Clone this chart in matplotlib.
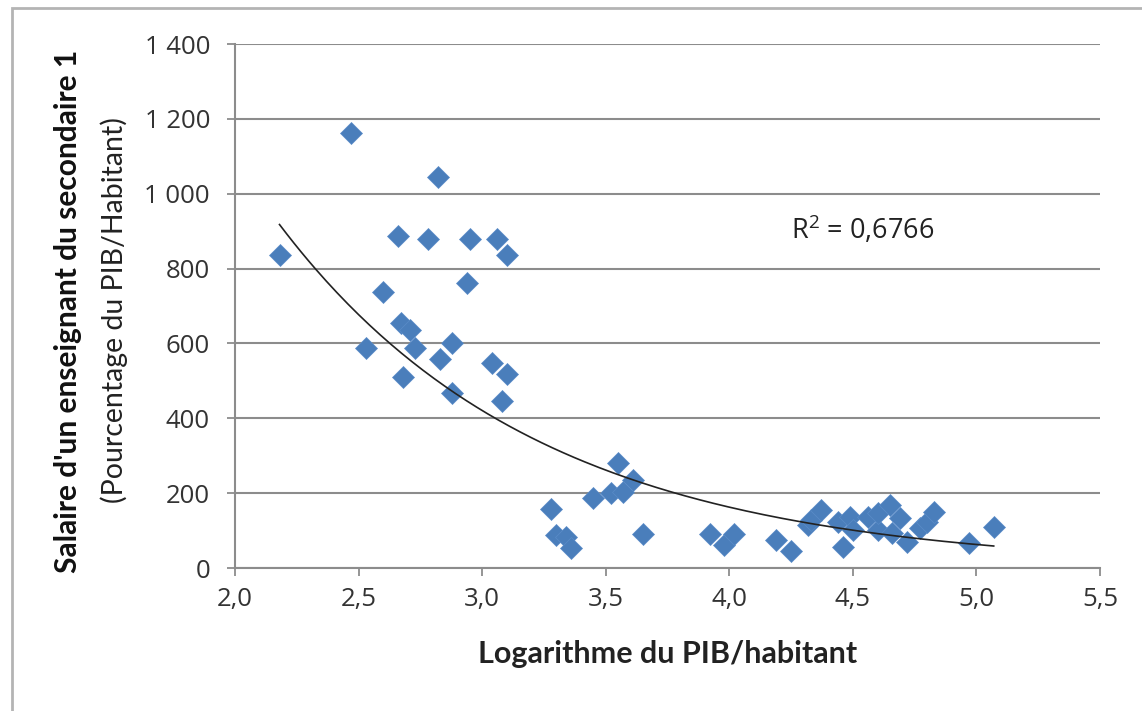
'''salaire enseignant vs log PIB/habitant'''
#%% import
import numpy as np
import matplotlib.pyplot as plt
from matplotlib.patches import Rectangle
from matplotlib.ticker import FuncFormatter

#%% data
logPib = [2.18, 2.47, 2.53, 2.60, 2.66, 2.67, 2.71, 2.73, 2.68, 2.78,
          2.82, 2.83, 2.88, 2.88, 2.94, 2.95, 3.04, 3.06, 3.08, 3.10,
          3.10, 3.28, 3.30, 3.34, 3.36, 3.45, 3.52, 3.55, 3.57, 3.61,
          3.65, 3.92, 3.98, 4.02, 4.19, 4.25, 4.32, 4.33, 4.37, 4.44,
          4.46, 4.49, 4.50, 4.56, 4.60, 4.60, 4.65, 4.66, 4.69, 4.72,
          4.77, 4.80, 4.83, 4.97, 5.07]
salaire = [835, 1162, 587, 737, 887, 654, 635, 587, 510, 878,
           1044, 558, 601, 467, 761, 878, 547, 878, 446, 518,
           836, 158, 88, 83, 53, 187, 200, 280, 203, 235,
           91, 91, 61, 91, 75, 45, 115, 128, 155, 123,
           56, 136, 101, 136, 101, 147, 168, 93, 133, 69,
           107, 123, 150, 67, 110]
r2Text = 'R$^2$ = 0,6766'

x = np.array(logPib)
y = np.array(salaire)

# exponential trend line (excel style: fit on ln y)
b, lna = np.polyfit(x, np.log(y), 1)
xf = np.linspace(x.min(), x.max(), 200)
yf = np.exp(lna) * np.exp(b * xf)

#%% plot
plt.rcParams['font.family'] = ['Open Sans', 'DejaVu Sans']
plt.rcParams['mathtext.fontset'] = 'custom'
plt.rcParams['mathtext.rm'] = 'Open Sans'
grey = '#8c8c8c'

fig = plt.figure(figsize=(11.42, 7.11), dpi=100)
ax = fig.add_axes([0.2058, 0.2011, 0.7574, 0.7370])

ax.plot(x, y, linestyle='none', marker='D', ms=11.5, color='#4a7ebb',
        markeredgecolor='#5a8cc8', markeredgewidth=0.5, zorder=3)
ax.plot(xf, yf, color='#222222', lw=1.2, zorder=4)

ax.set_xlim(2.0, 5.5)
ax.set_ylim(0, 1400)
ax.set_xticks(np.arange(2.0, 5.51, 0.5))
ax.set_yticks(np.arange(0, 1401, 200))
ax.xaxis.set_major_formatter(FuncFormatter(lambda v, p: f'{v:.1f}'.replace('.', ',')))
ax.yaxis.set_major_formatter(FuncFormatter(lambda v, p: f'{int(v):,}'.replace(',', ' ')))
ax.tick_params(axis='both', colors=grey, labelcolor='#333333', labelsize=18.5,
               length=6, width=1.3)
ax.tick_params(axis='y', pad=12)
ax.tick_params(axis='x', pad=8)

ax.grid(axis='y', color=grey, lw=1.5, zorder=0)
ax.set_axisbelow(True)
for s in ['top', 'right']:
    ax.spines[s].set_visible(False)
for s in ['left', 'bottom']:
    ax.spines[s].set_color(grey)
    ax.spines[s].set_linewidth(1.5)

ax.text(4.25, 905, r2Text, fontsize=19.5, color='#222222', va='center')

ax.set_xlabel('Logarithme du PIB/habitant', fontsize=22, fontweight='bold',
              family=['Lato', 'DejaVu Sans'], color='#222222', labelpad=20)
fig.text(0.0595, 0.5626, "Salaire d'un enseignant du secondaire 1", rotation=90,
         ha='center', va='center', fontsize=21.5, fontweight='bold',
         family=['Lato', 'DejaVu Sans'], color='#111111')
fig.text(0.100, 0.564, '(Pourcentage du PIB/Habitant)', rotation=90,
         ha='center', va='center', fontsize=20.5,
         family=['Lato', 'DejaVu Sans'], color='#222222')

# outer chart frame (right and bottom edges fall outside the picture)
fig.patches.append(Rectangle((0.0105, -0.1), 1.2, 1.0888, transform=fig.transFigure,
                             fill=False, edgecolor='#b4b4b4', lw=2))

fig.savefig('out.png', dpi=100)
